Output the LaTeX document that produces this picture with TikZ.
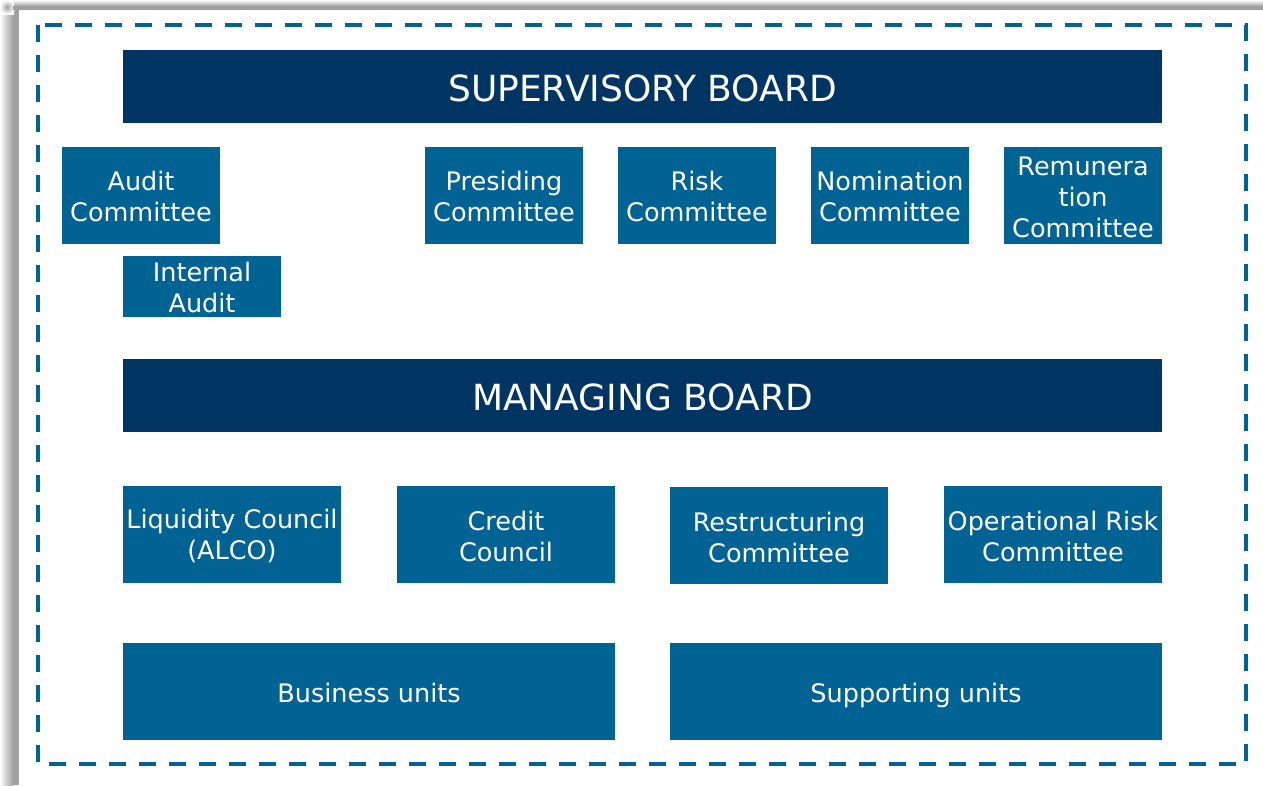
\documentclass[tikz,border=0pt]{standalone}
\usepackage{fontspec}
\setmainfont{DejaVu Sans}
\definecolor{navy}{HTML}{003462}
\definecolor{midblue}{HTML}{006394}
\definecolor{shad}{HTML}{A0A0A0}
\begin{document}
\begin{tikzpicture}[x=1pt,y=-1pt,
  unit/.style={text=white,align=center,font=\fontsize{25.5}{31}\selectfont,inner sep=0pt},
  board/.style={text=white,align=center,font=\fontsize{36}{40}\selectfont,inner sep=0pt}]
\useasboundingbox (0,0) rectangle (1263,785);
\fill[white] (0,0) rectangle (1263,785);
% shadow
\shade[left color=white,right color=shad] (0,14) rectangle (13,785);
\fill[shad] (13,10) rectangle (19,785);
\shade[top color=white,bottom color=shad] (14,0) rectangle (1263,6);
\fill[shad] (19,6) rectangle (1263,10);
\shade[inner color=shad,outer color=white] (0,0) rectangle (14,14);
\fill[shad] (13,6) rectangle (19,10);
% dashed frame
\coordinate (f1) at (38,25);
\coordinate (f2) at (1246,764);
\draw[midblue,line width=4pt,dash pattern=on 17pt off 13pt] (f1) rectangle (f2);
\fill[navy] (123,50) rectangle (1162,123);
\node[board,anchor=base] (sb) at (642.5,101) {SUPERVISORY BOARD};
\fill[midblue] (62,147) rectangle (220,244);
\node[unit] (ac) at (141,196) {Audit\\Committee};
\fill[midblue] (425,147) rectangle (583,244);
\node[unit] (pc) at (504,196) {Presiding\\Committee};
\fill[midblue] (618,147) rectangle (776,244);
\node[unit] (rc) at (697,196) {Risk\\Committee};
\fill[midblue] (811,147) rectangle (969,244);
\node[unit] (nc) at (890,196) {Nomination\\Committee};
\fill[midblue] (1004,147) rectangle (1162,244);
\node[unit] (rem) at (1083,197) {Remunera\\tion\\Committee};
\fill[midblue] (123,256) rectangle (281,317);
\node[unit] (ia) at (202,287) {Internal\\Audit};
\fill[navy] (123,359) rectangle (1162,432);
\node[board,anchor=base] (mb) at (642.5,410) {MANAGING BOARD};
\fill[midblue] (123,486) rectangle (341,583);
\node[unit] (lc) at (232,536) {Liquidity Council\\(ALCO)};
\fill[midblue] (397,486) rectangle (615,583);
\node[unit] (cc) at (506,536) {Credit\\Council};
\fill[midblue] (670,487) rectangle (888,584);
\node[unit] (rsc) at (779,537) {Restructuring\\Committee};
\fill[midblue] (944,486) rectangle (1162,583);
\node[unit] (orc) at (1053,536) {Operational Risk\\Committee};
\fill[midblue] (123,643) rectangle (615,740);
\node[unit,anchor=base] (bu) at (369,702) {Business units};
\fill[midblue] (670,643) rectangle (1162,740);
\node[unit,anchor=base] (su) at (916,702) {Supporting units};
\end{tikzpicture}
\end{document}
